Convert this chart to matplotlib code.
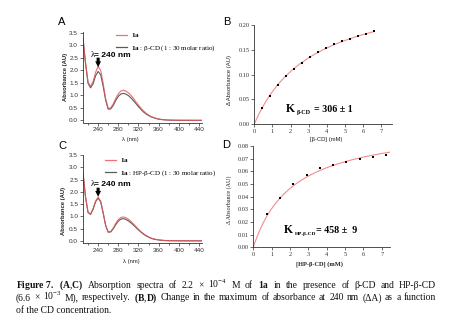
import numpy as np
import matplotlib
matplotlib.use("Agg")
import matplotlib.pyplot as plt
from matplotlib.lines import Line2D

plt.rcParams["mathtext.fontset"] = "custom"
plt.rcParams["mathtext.rm"] = "Liberation Serif"
plt.rcParams["mathtext.it"] = "Liberation Serif:italic"
plt.rcParams["mathtext.bf"] = "Liberation Serif:bold"

# ---------------- data ----------------
wavelength = np.arange(210, 450, 5)  # nm

abs_1a_A = [3.25, 2.30, 1.52, 1.36, 1.55, 1.92, 2.15, 2.00, 1.48, 0.86,
            0.48, 0.50, 0.66, 0.88, 1.06, 1.17, 1.20, 1.17, 1.10, 1.00,
            0.88, 0.74, 0.61, 0.49, 0.38, 0.29, 0.22, 0.16, 0.12, 0.085,
            0.06, 0.042, 0.03, 0.022, 0.017, 0.014, 0.012, 0.011, 0.010,
            0.009, 0.009, 0.008, 0.008, 0.008, 0.007, 0.007, 0.007, 0.007]
abs_bcd_A = [3.25, 2.28, 1.48, 1.30, 1.46, 1.78, 1.95, 1.82, 1.36, 0.80,
             0.45, 0.46, 0.60, 0.80, 0.96, 1.05, 1.08, 1.05, 0.99, 0.90,
             0.79, 0.67, 0.55, 0.44, 0.34, 0.26, 0.20, 0.145, 0.11, 0.078,
             0.055, 0.04, 0.028, 0.02, 0.015, 0.012, 0.010, 0.009, 0.008,
             0.007, 0.007, 0.006, 0.006, 0.006, 0.005, 0.005, 0.005, 0.005]
abs_1a_C = [2.78, 1.80, 1.18, 1.10, 1.32, 1.63, 1.78, 1.63, 1.16, 0.64,
            0.37, 0.39, 0.53, 0.72, 0.87, 0.96, 0.98, 0.95, 0.89, 0.80,
            0.70, 0.59, 0.48, 0.38, 0.30, 0.23, 0.17, 0.12, 0.09, 0.065,
            0.048, 0.035, 0.026, 0.02, 0.016, 0.014, 0.013, 0.012, 0.012,
            0.010, 0.010, 0.010, 0.010, 0.010, 0.010, 0.010, 0.010, 0.010]
abs_hpcd_C = [2.78, 1.79, 1.16, 1.08, 1.29, 1.60, 1.75, 1.60, 1.13, 0.62,
              0.36, 0.37, 0.50, 0.67, 0.81, 0.89, 0.91, 0.88, 0.82, 0.74,
              0.65, 0.55, 0.45, 0.36, 0.28, 0.21, 0.16, 0.11, 0.08, 0.06,
              0.044, 0.032, 0.024, 0.018, 0.014, 0.012, 0.011, 0.010, 0.009,
              0.008, 0.008, 0.008, 0.008, 0.008, 0.008, 0.008, 0.008, 0.008]

conc_bcd = [0.44, 0.88, 1.32, 1.76, 2.20, 2.64, 3.08, 3.52, 3.96, 4.40,
            4.84, 5.28, 5.72, 6.16, 6.60]  # mM
dA_bcd = [0.033, 0.057, 0.078, 0.096, 0.111, 0.124, 0.135, 0.146, 0.154,
          0.161, 0.167, 0.172, 0.178, 0.182, 0.188]
K_bcd = 306.0  # M^-1

conc_hpcd = [0.72, 1.45, 2.17, 2.90, 3.62, 4.35, 5.07, 5.80, 6.52, 7.25]  # mM
dA_hpcd = [0.0265, 0.039, 0.050, 0.057, 0.0625, 0.065, 0.0675, 0.0698,
           0.0712, 0.0725]
K_hpcd = 458.0  # M^-1

RED = "#e8555a"
GRAY = "#5a5a5a"
FIT = "#f28c8c"

W, H = 451, 322
fig = plt.figure(figsize=(W / 100, H / 100), dpi=100)


def rect(l, t, r, b):
    return [l / W, 1 - b / H, (r - l) / W, (b - t) / H]


def fxy(x, y):
    return x / W, 1 - y / H


def style_axes(ax, family):
    for s in ("top", "right"):
        ax.spines[s].set_visible(False)
    for s in ("left", "bottom"):
        ax.spines[s].set_linewidth(0.6)
        ax.spines[s].set_color("#333333")
    ax.tick_params(direction="out", length=2, width=0.5, pad=1.5,
                   labelsize=4.6, colors="#333333")
    ax.tick_params(which="minor", direction="out", length=1.2, width=0.4)
    for lab in ax.get_xticklabels() + ax.get_yticklabels():
        lab.set_family(family)


def spectrum_panel(r, y1a, ycd, ylim, cd_label, arrow_y, text_y):
    ax = fig.add_axes(r)
    ax.plot(wavelength, ycd, color=GRAY, lw=0.8)
    ax.plot(wavelength, y1a, color=RED, lw=0.8, alpha=0.85)
    ax.set_xlim(210, 446)
    ax.set_ylim(*ylim)
    ax.set_xticks(np.arange(240, 441, 40))
    ax.set_xticks(np.arange(220, 446, 20), minor=True)
    ax.set_yticks(np.arange(0, 3.51, 0.5))
    ax.set_yticklabels([f"{v:.1f}" for v in np.arange(0, 3.51, 0.5)])
    style_axes(ax, "Liberation Sans")
    handles = [Line2D([], [], color="#f07070", lw=0.9),
               Line2D([], [], color=GRAY, lw=0.9)]
    labels = [r"$\mathbf{1a}$", r"$\mathbf{1a}$ : " + cd_label + " (1 : 30 molar ratio)"]
    leg = ax.legend(handles, labels, loc="upper left", frameon=False,
                    handlelength=1.6, handletextpad=0.55,
                    labelspacing=0.55, borderpad=0, borderaxespad=0,
                    prop={"family": "Liberation Serif", "size": 5})
    ax.annotate("", xy=(240, arrow_y[1]), xytext=(240, arrow_y[0]),
                arrowprops=dict(arrowstyle="simple,head_width=0.42,head_length=0.42,tail_width=0.22",
                                color="black", lw=0, shrinkA=0, shrinkB=0,
                                mutation_scale=10))
    ax.text(225.5, text_y, "λ", fontsize=6, family="Liberation Serif",
            va="center", ha="left")
    ax.text(232, text_y, "= 240 nm", fontsize=6, family="Liberation Sans",
            weight="bold", va="center", ha="left")
    return ax, leg


axA, legA = spectrum_panel(rect(83, 32, 202, 122.5), abs_1a_A, abs_bcd_A,
                           (-0.08, 3.52), "β-CD", (2.5, 2.12), 2.6)
legA.set_bbox_to_anchor((116 / W, 1 - 31 / H), transform=fig.transFigure)
axC, legC = spectrum_panel(rect(83, 155, 202, 243), abs_1a_C, abs_hpcd_C,
                           (-0.08, 3.5), "HP-β-CD", (2.17, 1.8), 2.3)
legC.set_bbox_to_anchor((105 / W, 1 - 156 / H), transform=fig.transFigure)


def binding_curve(x, K, dA_max):
    kx = K * 1e-3 * x
    return dA_max * kx / (1 + kx)


def isotherm_panel(r, conc, dA, K, xmax, ylim, yticks, fit_end):
    ax = fig.add_axes(r)
    c = np.asarray(conc)
    d = np.asarray(dA)
    f = K * 1e-3 * c / (1 + K * 1e-3 * c)
    dA_max = np.sum(f * d) / np.sum(f * f)
    xs = np.linspace(0, fit_end, 200)
    ax.plot(xs, binding_curve(xs, K, dA_max), color=FIT, lw=0.8)
    ax.plot(conc, dA, "s", color="black", ms=2.0, mew=0)
    ax.set_xlim(0, xmax)
    ax.set_ylim(*ylim)
    ax.set_xticks(range(0, 8))
    ax.set_yticks(yticks)
    ax.set_yticklabels([f"{v:.2f}" for v in yticks])
    style_axes(ax, "Liberation Serif")
    return ax


axB = isotherm_panel(rect(254.3, 25, 392, 124), conc_bcd, dA_bcd, K_bcd, 7.6,
                     (0, 0.2), np.arange(0, 0.201, 0.05), 6.6)
axD = isotherm_panel(rect(253.3, 146, 390, 247.3), conc_hpcd, dA_hpcd, K_hpcd, 7.45,
                     (0, 0.08), np.arange(0, 0.0801, 0.01), 7.45)

# binding constants
serif_b = dict(family="Liberation Serif", weight="bold", va="baseline", ha="left")
fig.text(*fxy(285.5, 112), "K", fontsize=8.5, **serif_b)
fig.text(*fxy(297, 114), "β-CD", fontsize=4.4, **serif_b)
fig.text(*fxy(313.5, 112), "= 306 ± 1", fontsize=7.2, **serif_b)
fig.text(*fxy(284, 233), "K", fontsize=8.5, **serif_b)
fig.text(*fxy(295, 235), "HP-β-CD", fontsize=3.9, **serif_b)
fig.text(*fxy(316, 233), "= 458 ±  9", fontsize=7.2, **serif_b)

# axis titles
sans_small = dict(family="Liberation Sans", fontsize=4.2, color="#222222")
fig.text(*fxy(65, 77), "Absorbance (AU)", rotation=90, ha="center", va="center",
         weight="bold", **sans_small)
fig.text(*fxy(64, 211), "Absorbance (AU)", rotation=90, ha="center", va="center",
         weight="bold", **sans_small)
fig.text(*fxy(130, 139), "λ (nm)", ha="center", va="center", **sans_small)
fig.text(*fxy(131, 261), "λ (nm)", ha="center", va="center", **sans_small)
fig.text(*fxy(230, 80), "Δ Absorbance (AU)", rotation=90, ha="center", va="center",
         **sans_small)
fig.text(*fxy(326, 140), "[β-CD] (mM)", ha="center", va="center", **sans_small)
fig.text(*fxy(229.5, 200), "Δ Absorbance (AU)", rotation=90, ha="center",
         va="center", family="Liberation Serif", fontsize=4.4, color="#222222")
fig.text(*fxy(320, 264), "[HP-β-CD] (mM)", ha="center", va="center",
         family="Liberation Serif", fontsize=4.6, weight="bold", color="#222222")

# panel letters
for letter, (x, y) in {"A": (62, 22), "B": (226.5, 22),
                       "C": (62, 146), "D": (226.5, 145.5)}.items():
    fig.text(*fxy(x, y), letter, fontsize=8, family="Liberation Sans",
             ha="center", va="center")

# figure caption, justified between x0 and x1
cap = dict(family="Liberation Serif", fontsize=6.9, ha="left", va="baseline",
           color="#111111")
renderer = fig.canvas.get_renderer()


def justified_line(words, y, x0=16, x1=436):
    texts = [fig.text(*fxy(0, y), w, **cap) for w in words]
    widths = [t.get_window_extent(renderer).width for t in texts]
    gap = (x1 - x0 - sum(widths)) / (len(words) - 1)
    x = x0
    for t, w in zip(texts, widths):
        t.set_x(x / W)
        x += w + gap


line1 = [r"$\mathbf{Figure\ 7.}$", r"$\mathbf{(A}$,$\mathbf{C)}$", "Absorption",
         "spectra", "of", "2.2", "×", r"10$^{-4}$", "M", "of", r"$\mathbf{1a}$",
         "in", "the", "presence", "of", "β-CD", "and", "HP-β-CD"]
line2 = [r"(6.6", "×", r"10$^{-3}$", "M),", "respectively.", r"$\mathbf{(B}$,$\mathbf{D)}$",
         "Change", "in", "the", "maximum", "of", "absorbance", "at", "240", "nm",
         "(ΔA)", "as", "a", "function"]
justified_line(line1, 288)
justified_line(line2, 300.5)
fig.text(*fxy(16, 313), "of the CD concentration.", **cap)

fig.savefig("out.png", dpi=100)
